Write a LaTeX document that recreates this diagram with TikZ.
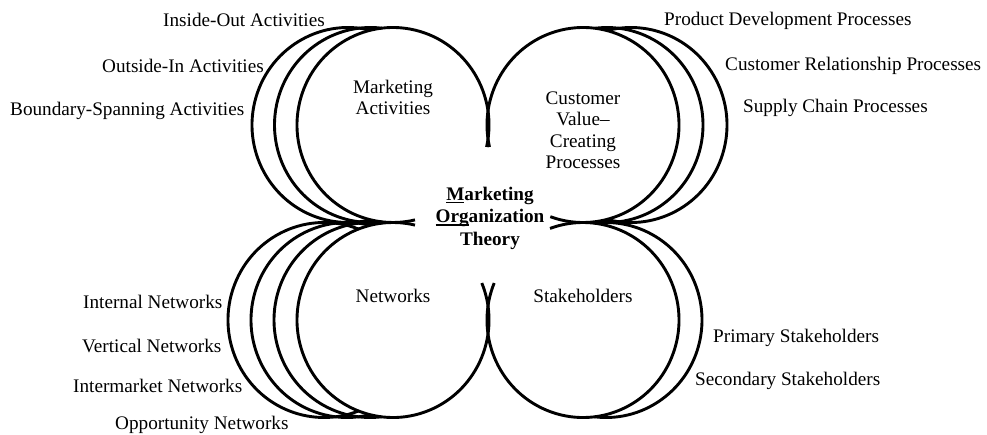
\documentclass[tikz,border=0pt]{standalone}
\usepackage{fontspec}
\setmainfont{Liberation Serif}
\tikzset{
  ring/.style={line width=2.9pt, line cap=butt},
  lbl/.style={font=\fontsize{19.2}{21.5}\selectfont, inner sep=0pt},
  ctr/.style={font=\fontsize{19.2}{22}\selectfont\bfseries, inner sep=0pt}
}
\newcommand\ulpart[1]{\setbox0\hbox{#1}\rlap{\rule[-3.4pt]{\wd0}{1.8pt}}#1}
\newcommand\ringarc[3]{\draw[ring] ([shift={(#2:96pt and 97.5pt)}]#1) arc[start angle=#2, end angle=#3, x radius=96pt, y radius=97.5pt];}
\begin{document}
\begin{tikzpicture}[x=1pt,y=1pt]
\fill[white] (0,0) rectangle (987,-434);
\useasboundingbox (0,0) rectangle (987,-434);
% centres
\coordinate (tl) at (393,-125);
\coordinate (tr) at (583,-125);
\coordinate (bl) at (393,-320);
\coordinate (br) at (583,-320);
\coordinate (tlA) at (370.5,-125);
\coordinate (tlB) at (348,-125);
\coordinate (trA) at (607,-125);
\coordinate (trB) at (631,-125);
\coordinate (blA) at (370,-320);
\coordinate (blB) at (347,-320);
\coordinate (blC) at (324,-320);
\coordinate (brA) at (606,-320);
% main circles
\ringarc{tl}{-13.04}{283.25}
\ringarc{tr}{193.04}{-109.9}
\ringarc{bl}{22.3}{-283.25}
\ringarc{br}{157.7}{470.1}
% outer arcs
\ringarc{tlA}{83.27}{276.73}
\ringarc{tlB}{76.44}{283.56}
\ringarc{blA}{83.12}{276.88}
\ringarc{blB}{76.14}{283.86}
\ringarc{blC}{68.97}{291.03}
\ringarc{trA}{-97.18}{97.18}
\ringarc{trB}{-104.48}{104.48}
\ringarc{brA}{-96.88}{96.88}
% circle titles
\node[lbl, anchor=base] (ma1) at (393,-93) {Marketing};
\node[lbl, anchor=base] (ma2) at (393,-114) {Activities};
\node[lbl, anchor=base] (cv1) at (583,-104) {Customer};
\node[lbl, anchor=base] (cv2) at (583,-125.5) {Value--};
\node[lbl, anchor=base] (cv3) at (583,-147) {Creating};
\node[lbl, anchor=base] (cv4) at (583,-168.5) {Processes};
\node[lbl, anchor=base] (nw) at (393,-302) {Networks};
\node[lbl, anchor=base] (sh) at (583,-302) {Stakeholders};
% centre title
\node[ctr, anchor=base] (mo1) at (490,-200) {\ulpart{M}arketing};
\node[ctr, anchor=base] (mo2) at (490,-222.5) {\ulpart{Org}anization};
\node[ctr, anchor=base] (mo3) at (490,-245) {Theory};
% outer labels
\node[lbl, anchor=base west] (io) at (163,-26) {Inside-Out Activities};
\node[lbl, anchor=base west] (oi) at (102,-72) {Outside-In Activities};
\node[lbl, anchor=base west] (bs) at (10,-115) {Boundary-Spanning Activities};
\node[lbl, anchor=base west] (pd) at (664,-25) {Product Development Processes};
\node[lbl, anchor=base west] (cr) at (725,-70) {Customer Relationship Processes};
\node[lbl, anchor=base west] (sc) at (743,-112) {Supply Chain Processes};
\node[lbl, anchor=base west] (in) at (83,-308) {Internal Networks};
\node[lbl, anchor=base west] (vn) at (82,-352) {Vertical Networks};
\node[lbl, anchor=base west] (im) at (73,-392) {Intermarket Networks};
\node[lbl, anchor=base west] (on) at (115,-429) {Opportunity Networks};
\node[lbl, anchor=base west] (ps) at (713,-342) {Primary Stakeholders};
\node[lbl, anchor=base west] (ss) at (695,-385) {Secondary Stakeholders};
\end{tikzpicture}
\end{document}
